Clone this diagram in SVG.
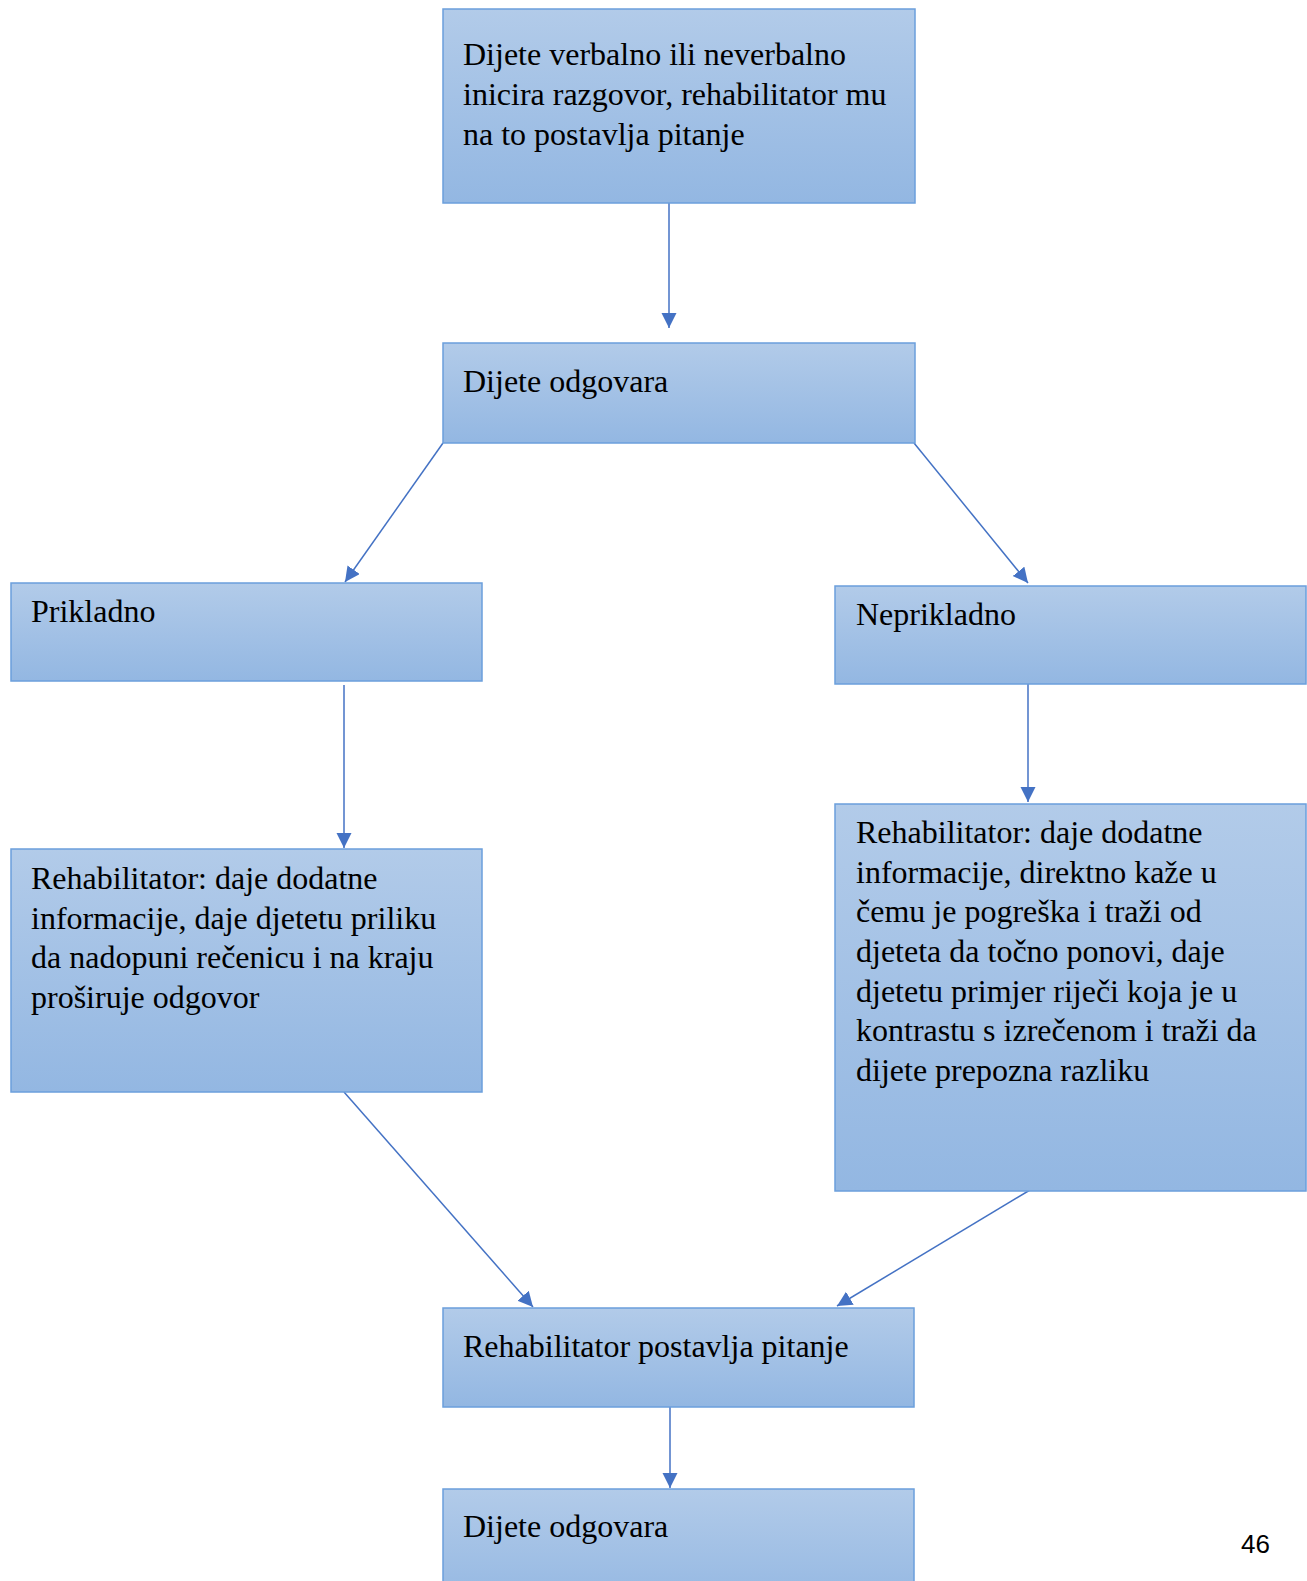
<svg xmlns="http://www.w3.org/2000/svg" width="1307" height="1581" viewBox="0 0 1307 1581">
  <defs>
    <linearGradient id="fill" x1="0" y1="0" x2="0" y2="1">
      <stop offset="0" stop-color="#b2cbe9"/>
      <stop offset="1" stop-color="#93b7e2"/>
    </linearGradient>
    <marker id="arrow" markerUnits="userSpaceOnUse" markerWidth="16" markerHeight="16" refX="15" refY="7.5" orient="auto">
      <path d="M0,0 L15,7.5 L0,15 Z" fill="#4472c4"/>
    </marker>
    <style>
      .box { fill: url(#fill); stroke: #6b9fdc; stroke-width: 1.5; }
      .lbl { font-family: "Liberation Serif", "Times New Roman", serif; font-size: 32px; fill: #000; }
      .conn { stroke: #4472c4; stroke-width: 1.5; fill: none; marker-end: url(#arrow); }
      .page { font-family: "Liberation Sans", Arial, sans-serif; font-size: 26px; fill: #000; }
    </style>
  </defs>

  <g id="connectors">
    <line class="conn" x1="669" y1="203" x2="669" y2="328"/>
    <line class="conn" x1="443" y1="443" x2="345" y2="582"/>
    <line class="conn" x1="914" y1="443" x2="1028" y2="583"/>
    <line class="conn" x1="344" y1="685" x2="344" y2="848"/>
    <line class="conn" x1="1028" y1="684" x2="1028" y2="802"/>
    <line class="conn" x1="344" y1="1092" x2="533" y2="1307"/>
    <line class="conn" x1="1030" y1="1190" x2="837" y2="1306"/>
    <line class="conn" x1="670" y1="1407" x2="670" y2="1488"/>
  </g>

  <g id="n1">
    <rect class="box" x="443" y="9" width="472" height="194"/>
    <text class="lbl" x="463" y="65">Dijete verbalno ili neverbalno</text>
    <text class="lbl" x="463" y="105">inicira razgovor, rehabilitator mu</text>
    <text class="lbl" x="463" y="145">na to postavlja pitanje</text>
  </g>

  <g id="n2">
    <rect class="box" x="443" y="343" width="472" height="100"/>
    <text class="lbl" x="463" y="392">Dijete odgovara</text>
  </g>

  <g id="n3">
    <rect class="box" x="11" y="583" width="471" height="98"/>
    <text class="lbl" x="31" y="622">Prikladno</text>
  </g>

  <g id="n4">
    <rect class="box" x="835" y="586" width="471" height="98"/>
    <text class="lbl" x="856" y="625">Neprikladno</text>
  </g>

  <g id="n5">
    <rect class="box" x="11" y="849" width="471" height="243"/>
    <text class="lbl" x="31" y="889">Rehabilitator: daje dodatne</text>
    <text class="lbl" x="31" y="929">informacije, daje djetetu priliku</text>
    <text class="lbl" x="31" y="968">da nadopuni rečenicu i na kraju</text>
    <text class="lbl" x="31" y="1008">proširuje odgovor</text>
  </g>

  <g id="n6">
    <rect class="box" x="835" y="804" width="471" height="387"/>
    <text class="lbl" x="856" y="843">Rehabilitator: daje dodatne</text>
    <text class="lbl" x="856" y="883">informacije, direktno kaže u</text>
    <text class="lbl" x="856" y="922">čemu je pogreška i traži od</text>
    <text class="lbl" x="856" y="962">djeteta da točno ponovi, daje</text>
    <text class="lbl" x="856" y="1002">djetetu primjer riječi koja je u</text>
    <text class="lbl" x="856" y="1041">kontrastu s izrečenom i traži da</text>
    <text class="lbl" x="856" y="1081">dijete prepozna razliku</text>
  </g>

  <g id="n7">
    <rect class="box" x="443" y="1308" width="471" height="99"/>
    <text class="lbl" x="463" y="1357">Rehabilitator postavlja pitanje</text>
  </g>

  <g id="n8">
    <rect class="box" x="443" y="1489" width="471" height="120"/>
    <text class="lbl" x="463" y="1537">Dijete odgovara</text>
  </g>

  <text class="page" x="1241" y="1553">46</text>
</svg>
